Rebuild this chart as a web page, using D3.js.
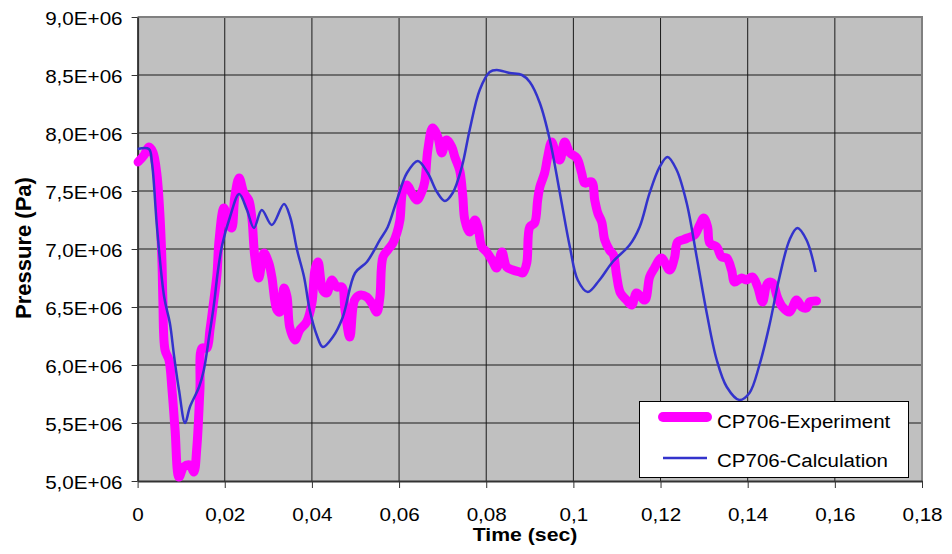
<!DOCTYPE html>
<html lang="en">
<head>
<meta charset="utf-8">
<title>CP706 Pressure</title>
<script src="https://d3js.org/d3.v7.min.js"></script>
<style>
  body { margin: 0; background: #fff; }
  svg text { font-family: "Liberation Sans", Arial, sans-serif; fill: #000; }
</style>
</head>
<body>
<svg id="chart" width="952" height="554"></svg>
<script>
// experiment (thick magenta), pressure in MPa
const expTime = [0.0001,0.0015,0.0026,0.0035,0.0044,0.0051,0.0056,0.0058,0.0063,0.0072,0.0079,0.0086,0.0095,0.0106,0.0120,0.0129,0.0136,0.0143,0.0148,0.0159,0.0166,0.0175,0.0182,0.0187,0.0198,0.0210,0.0216,0.0223,0.0233,0.0244,0.0255,0.0262,0.0269,0.0278,0.0290,0.0301,0.0308,0.0320,0.0327,0.0336,0.0343,0.0349,0.0361,0.0372,0.0388,0.0400,0.0407,0.0414,0.0425,0.0434,0.0446,0.0457,0.0469,0.0476,0.0487,0.0498,0.0510,0.0526,0.0537,0.0549,0.0556,0.0563,0.0574,0.0586,0.0595,0.0602,0.0609,0.0618,0.0629,0.0641,0.0652,0.0659,0.0666,0.0677,0.0689,0.0698,0.0709,0.0721,0.0728,0.0739,0.0746,0.0751,0.0762,0.0774,0.0781,0.0790,0.0801,0.0813,0.0824,0.0836,0.0847,0.0861,0.0877,0.0884,0.0893,0.0900,0.0911,0.0918,0.0923,0.0934,0.0941,0.0950,0.0962,0.0969,0.0980,0.0992,0.1008,0.1019,0.1026,0.1042,0.1049,0.1056,0.1065,0.1072,0.1083,0.1092,0.1099,0.1108,0.1122,0.1134,0.1145,0.1164,0.1175,0.1186,0.1202,0.1221,0.1232,0.1239,0.1251,0.1262,0.1278,0.1290,0.1299,0.1308,0.1313,0.1329,0.1340,0.1352,0.1363,0.1370,0.1386,0.1397,0.1411,0.1423,0.1434,0.1446,0.1457,0.1468,0.1480,0.1496,0.1512,0.1524,0.1535,0.1542,0.1558];
const expPressure = [7.750,7.810,7.879,7.836,7.655,7.310,6.879,6.560,6.129,6.043,5.784,5.440,5.034,5.121,5.138,5.077,5.293,5.784,6.146,6.146,6.302,6.560,6.776,7.078,7.353,7.207,7.181,7.448,7.612,7.483,7.422,7.276,6.931,6.750,6.965,6.879,6.759,6.474,6.457,6.664,6.586,6.327,6.215,6.302,6.371,6.534,6.819,6.888,6.646,6.621,6.733,6.672,6.672,6.474,6.241,6.560,6.603,6.586,6.534,6.457,6.586,6.931,6.991,7.052,7.138,7.250,7.509,7.552,7.483,7.422,7.491,7.578,7.853,8.043,7.965,7.828,7.940,7.879,7.793,7.681,7.465,7.250,7.146,7.250,7.190,7.017,6.974,6.905,6.836,6.974,6.845,6.819,6.802,6.793,6.879,7.190,7.224,7.422,7.534,7.655,7.793,7.922,7.793,7.767,7.922,7.828,7.784,7.655,7.569,7.578,7.422,7.310,7.233,7.078,6.991,6.948,6.776,6.621,6.560,6.517,6.621,6.560,6.759,6.836,6.922,6.819,6.922,7.060,7.078,7.095,7.121,7.207,7.267,7.190,7.052,7.017,6.931,6.922,6.819,6.715,6.750,6.733,6.759,6.672,6.543,6.707,6.707,6.586,6.500,6.457,6.560,6.500,6.491,6.543,6.552];

// calculation (thin blue), pressure in MPa
const calcTime = [0,0.0026,0.0033,0.0045,0.0061,0.0074,0.0084,0.0095,0.0109,0.0120,0.0141,0.0152,0.0164,0.0175,0.0184,0.0194,0.0212,0.0233,0.0251,0.0267,0.0285,0.0308,0.0336,0.0350,0.0366,0.0382,0.0395,0.0411,0.0425,0.0448,0.0471,0.0499,0.0526,0.0556,0.0574,0.0595,0.0618,0.0643,0.0666,0.0687,0.0705,0.0723,0.0744,0.0762,0.0785,0.0808,0.0824,0.0854,0.0882,0.0900,0.0923,0.0946,0.0969,0.0992,0.1010,0.1033,0.1060,0.1090,0.1129,0.1152,0.1175,0.1198,0.1216,0.1237,0.1260,0.1283,0.1306,0.1329,0.1352,0.1381,0.1404,0.1427,0.1450,0.1473,0.1496,0.1514,0.1535,0.1556];
const calcPressure = [7.862,7.862,7.741,7.164,6.586,6.362,6.069,5.784,5.500,5.638,5.810,5.957,6.241,6.517,6.802,7.034,7.276,7.474,7.336,7.181,7.336,7.207,7.388,7.276,6.991,6.759,6.474,6.259,6.155,6.241,6.414,6.793,6.888,7.078,7.190,7.422,7.655,7.759,7.655,7.491,7.414,7.483,7.707,8.026,8.371,8.526,8.543,8.517,8.500,8.440,8.259,7.940,7.483,7.017,6.733,6.629,6.733,6.888,7.034,7.190,7.483,7.707,7.793,7.681,7.396,6.931,6.448,6.043,5.810,5.698,5.759,6.000,6.345,6.759,7.078,7.181,7.078,6.802];

const xTicks = [0, 0.02, 0.04, 0.06, 0.08, 0.1, 0.12, 0.14, 0.16, 0.18];
const yTicks = [5.0, 5.5, 6.0, 6.5, 7.0, 7.5, 8.0, 8.5, 9.0];
const seriesNames = ["CP706-Experiment", "CP706-Calculation"];
const seriesColors = ["#ff00ff", "#3333cc"];
const MPa = 1e6;

const svg = d3.select("#chart");
const plotLeft = 137.6, plotRight = 922, plotTop = 17, plotBottom = 481;

const x = d3.scaleLinear().domain([0, 0.18]).range([plotLeft, plotRight]);
const y = d3.scaleLinear().domain([5 * MPa, 9 * MPa]).range([plotBottom, plotTop]);

const fmtX = v => String(+v.toFixed(2)).replace(".", ",");
const fmtY = v => (v / MPa).toFixed(1).replace(".", ",") + "E+06";

// plot background
svg.append("rect")
  .attr("x", plotLeft).attr("y", plotTop)
  .attr("width", plotRight - plotLeft).attr("height", plotBottom - plotTop)
  .attr("fill", "#c0c0c0");

// gridlines
svg.append("g").selectAll("line")
  .data(xTicks.slice(1, -1))
  .enter().append("line")
  .attr("x1", d => x(d)).attr("x2", d => x(d))
  .attr("y1", plotTop).attr("y2", plotBottom)
  .attr("stroke", "#1a1a1a").attr("stroke-width", 1);

svg.append("g").selectAll("line")
  .data(yTicks.slice(1, -1))
  .enter().append("line")
  .attr("x1", plotLeft).attr("x2", plotRight)
  .attr("y1", d => y(d * MPa)).attr("y2", d => y(d * MPa))
  .attr("stroke", "#1a1a1a").attr("stroke-width", 1);

// gray frame top / right
svg.append("path")
  .attr("d", `M${plotLeft},${plotTop}H${plotRight}V${plotBottom}`)
  .attr("fill", "none").attr("stroke", "#808080").attr("stroke-width", 2);

// axes
const yAxis = svg.append("g")
  .attr("transform", `translate(${plotLeft},0)`)
  .call(d3.axisLeft(y).tickValues(yTicks.map(v => v * MPa)).tickSize(6).tickSizeOuter(0).tickFormat(fmtY));
yAxis.select(".domain").attr("stroke", "#333").attr("stroke-width", 2);
yAxis.selectAll(".tick line").attr("stroke", "#333");
yAxis.selectAll("text")
  .attr("x", 0).attr("dy", null)
  .attr("text-anchor", "end")
  .attr("transform", "translate(-15,7) scale(1.18,1)")
  .style("font-size", "17.5px");

const xAxis = svg.append("g")
  .attr("transform", `translate(0,${plotBottom})`)
  .call(d3.axisBottom(x).tickValues(xTicks).tickSize(7).tickSizeOuter(0).tickFormat(fmtX));
xAxis.select(".domain").attr("stroke", "#333").attr("stroke-width", 2);
xAxis.selectAll(".tick line").attr("stroke", "#333");
xAxis.selectAll("text")
  .attr("y", 0).attr("dy", null)
  .attr("text-anchor", "middle")
  .attr("transform", "translate(0,40) scale(1.18,1)")
  .style("font-size", "17.5px");

// axis titles
svg.append("text")
  .attr("text-anchor", "middle")
  .attr("transform", "translate(525,541) scale(1.18,1)")
  .style("font-size", "18px").style("font-weight", "bold")
  .text("Time (sec)");

svg.append("text")
  .attr("text-anchor", "middle")
  .attr("transform", "translate(31,248) rotate(-90)")
  .style("font-size", "22px").style("font-weight", "bold")
  .text("Pressure (Pa)");

// series
const line = d3.line()
  .x(d => x(d[0]))
  .y(d => y(d[1] * MPa))
  .curve(d3.curveCatmullRom.alpha(0.5));

svg.append("path")
  .datum(d3.zip(expTime, expPressure))
  .attr("d", line)
  .attr("fill", "none")
  .attr("stroke", seriesColors[0])
  .attr("stroke-width", 9)
  .attr("stroke-linejoin", "round")
  .attr("stroke-linecap", "round");

svg.append("path")
  .datum(d3.zip(calcTime, calcPressure))
  .attr("d", line)
  .attr("fill", "none")
  .attr("stroke", seriesColors[1])
  .attr("stroke-width", 2.5)
  .attr("stroke-linejoin", "round");

// legend
const legend = svg.append("g").attr("transform", "translate(639,401)");
legend.append("rect")
  .attr("x", 0.5).attr("y", 0.5)
  .attr("width", 269).attr("height", 76)
  .attr("fill", "#fff").attr("stroke", "#000").attr("stroke-width", 1);

const legendRows = [16, 57];
const legendBaselines = [27, 66];
seriesNames.forEach((name, i) => {
  legend.append("line")
    .attr("x1", 24).attr("x2", 68)
    .attr("y1", legendRows[i]).attr("y2", legendRows[i])
    .attr("stroke", seriesColors[i])
    .attr("stroke-width", i === 0 ? 10 : 2.5)
    .attr("stroke-linecap", i === 0 ? "round" : "butt");
  legend.append("text")
    .attr("transform", `translate(78,${legendBaselines[i]}) scale(1.08,1)`)
    .style("font-size", "19px")
    .text(name);
});
</script>
</body>
</html>
